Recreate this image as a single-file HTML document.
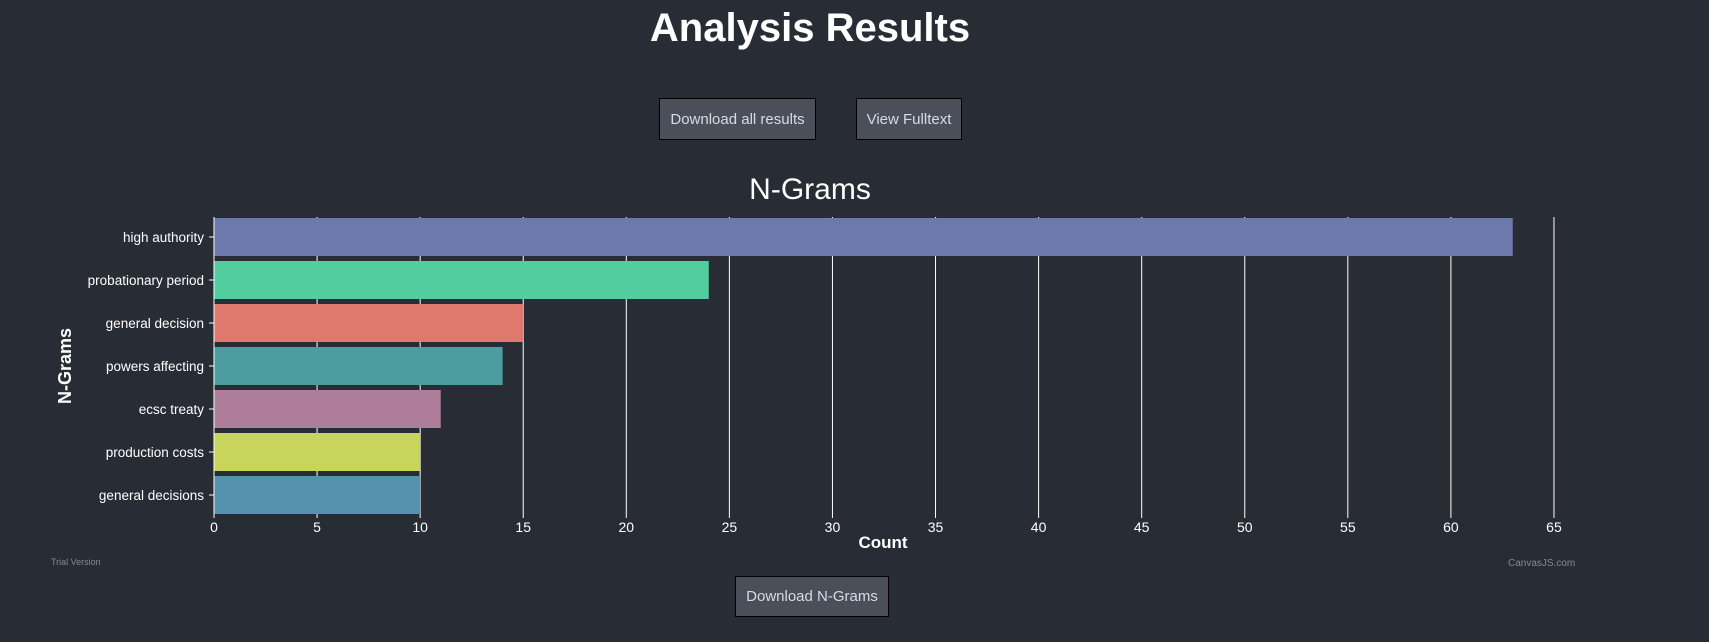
<!DOCTYPE html>
<html><head><meta charset="utf-8"><style>
html,body{margin:0;padding:0;background:#282c35;width:1709px;height:642px;overflow:hidden;font-family:"Liberation Sans","DejaVu Sans",sans-serif;}
.btn{position:absolute;background:#4a4f5a;border:1px solid #000;color:#d8dbe0;font-size:15px;box-sizing:border-box;display:flex;align-items:center;justify-content:center;}
h1{position:absolute;left:0;width:1620px;top:6px;margin:0;text-align:center;color:#fff;font-size:40px;font-weight:bold;}
</style></head><body>
<h1>Analysis Results</h1>
<div class="btn" style="left:659px;top:98px;width:157px;height:42px;">Download all results</div>
<div class="btn" style="left:856px;top:98px;width:106px;height:42px;">View Fulltext</div>
<div class="btn" style="left:735px;top:576px;width:154px;height:41px;">Download N-Grams</div>
<svg id="chart" width="1709" height="642" style="position:absolute;left:0;top:0;pointer-events:none"></svg>
<script>
const categories=["high authority","probationary period","general decision","powers affecting","ecsc treaty","production costs","general decisions"];
const values=[63,24,15,14,11,10,10];
const colors=["#6d78ad","#51cda0","#df7970","#4c9ca0","#ae7d99","#c9d45c","#5592ad"];
const ticks=[0,5,10,15,20,25,30,35,40,45,50,55,60,65];
const svg=document.getElementById('chart');const NS="http://www.w3.org/2000/svg";
const x0=214,pxPer=20.615,plotTop=217,plotBottom=518,step=43,barH=38;
const X=v=>x0+v*pxPer;
function mk(t,a,txt){const e=document.createElementNS(NS,t);for(const k in a)e.setAttribute(k,a[k]);if(txt!==undefined)e.textContent=txt;svg.appendChild(e);return e;}
let t=mk('text',{x:810,y:199,'text-anchor':'middle',fill:'#fff','font-size':30},'N-Grams');


ticks.forEach(v=>{
 const g=mk('line',{x1:X(v),x2:X(v),y1:plotTop,y2:518,stroke:'#fff','stroke-width':1});
 
 
 const l=mk('text',{x:X(v),y:532,'text-anchor':'middle',fill:'#fff','font-size':14},String(v));
 
 
});
categories.forEach((c,i)=>{
 const y=plotTop+1+i*step;
 const r=mk('rect',{x:x0,y:y,width:X(values[i])-x0,height:barH,fill:colors[i]});
 
 
 const cy=y+barH/2;
 mk('line',{x1:x0-5,x2:x0,y1:cy,y2:cy,stroke:'#fff'});
 const l=mk('text',{x:x0-10,y:cy+5,'text-anchor':'end',fill:'#fff','font-size':13.5},c);
 
 
});
const ax=mk('line',{x1:x0,x2:x0,y1:plotTop,y2:plotBottom,stroke:'#fff'});


let a=mk('text',{x:883,y:548,'text-anchor':'middle',fill:'#fff','font-size':17,'font-weight':'bold'},'Count');


a=mk('text',{x:71,y:366,'text-anchor':'middle',fill:'#fff','font-size':18,'font-weight':'bold',transform:'rotate(-90 71 366)'},'N-Grams');


a=mk('text',{x:51,y:565,fill:'#888','font-size':9},'Trial Version');


a=mk('text',{x:1508,y:566,fill:'#888','font-size':10},'CanvasJS.com');


</script>
</body></html>
